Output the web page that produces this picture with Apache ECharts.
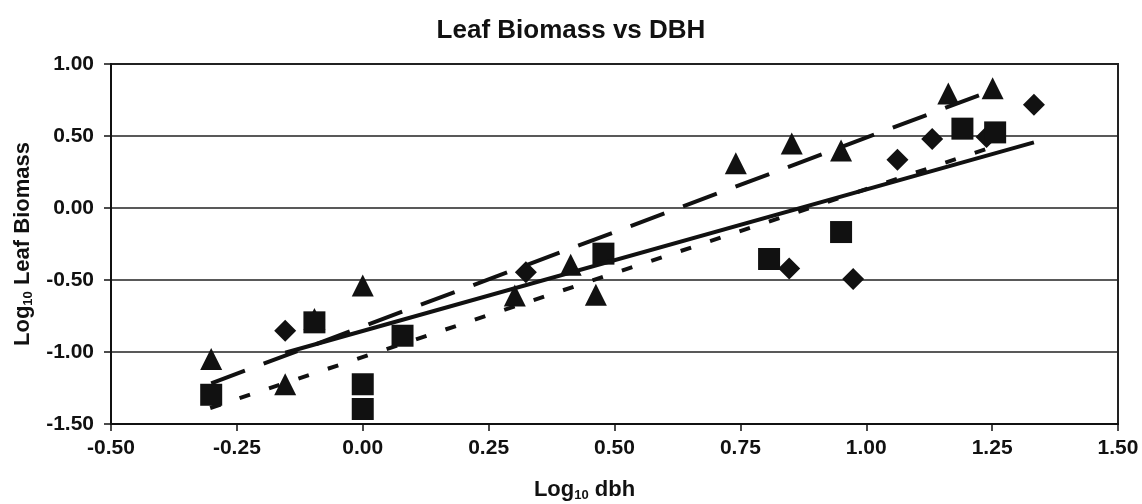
<!DOCTYPE html>
<html>
<head>
<meta charset="utf-8">
<title>Leaf Biomass vs DBH</title>
<script src="https://cdn.jsdelivr.net/npm/echarts@6/dist/echarts.min.js"></script>
<style>
  html,body{margin:0;padding:0;background:#fff;}
  #chart{width:1142px;height:504px;}
</style>
</head>
<body>
<div id="chart"></div>
<script>
// log10 dbh / log10 leaf biomass
const diamondPts = [
  [-0.154, -0.852], [0.324, -0.447], [0.847, -0.421], [0.974, -0.493],
  [1.062, 0.335], [1.131, 0.479], [1.239, 0.493], [1.333, 0.717]
]
const squarePts = [
  [-0.301, -1.297], [-0.096, -0.794], [0.000, -1.224], [0.000, -1.396],
  [0.079, -0.887], [0.478, -0.317], [0.807, -0.354], [0.950, -0.167],
  [1.191, 0.551], [1.256, 0.525]
]
const trianglePts = [
  [-0.301, -1.048], [-0.154, -1.224], [-0.096, -0.771], [0.000, -0.538],
  [0.302, -0.608], [0.413, -0.394], [0.463, -0.602], [0.741, 0.310],
  [0.852, 0.448], [0.950, 0.399], [1.163, 0.796], [1.251, 0.831]
]

// trend line end points
const diamondTrend = [[-0.154, -1.005], [1.333, 0.456]]
const squareTrend = [[-0.303, -1.389], [1.256, 0.430]]
const triangleTrend = [[-0.301, -1.218], [1.251, 0.818]]

const xTicks = { min: -0.5, max: 1.5, step: 0.25 }
const yTicks = { min: -1.5, max: 1.0, step: 0.5 }

const ink = '#111'
const font = 'Liberation Sans, Arial, sans-serif'

const chart = echarts.init(document.getElementById('chart'))

const nameRich = {
  a: { fontFamily: font, fontWeight: 'bold', fontSize: 22, color: ink },
  s: { fontFamily: font, fontWeight: 'bold', fontSize: 13, color: ink, padding: [12, 0, 0, 0] }
}

const scatter = (data, symbol, size) => ({
  type: 'scatter',
  data: data,
  symbol: symbol,
  symbolSize: size,
  itemStyle: { color: ink, opacity: 1 },
  z: 3
})

const trend = (data, dash) => ({
  type: 'line',
  data: data,
  showSymbol: false,
  symbol: 'none',
  lineStyle: { color: ink, width: 4, type: dash, cap: 'butt' },
  z: 4,
  silent: true
})

chart.setOption({
  animation: false,
  backgroundColor: '#fff',
  title: {
    text: 'Leaf Biomass vs DBH',
    left: 'center',
    top: 13,
    textStyle: { fontFamily: font, fontWeight: 'bold', fontSize: 26, color: ink }
  },
  grid: {
    left: 111, right: 24, top: 64, bottom: 80,
    containLabel: false,
    outerBoundsMode: 'none',
    show: true,
    borderColor: '#222',
    borderWidth: 2
  },
  xAxis: {
    type: 'value',
    min: xTicks.min, max: xTicks.max, interval: xTicks.step,
    name: '{a|Log}{s|10}{a| dbh}',
    nameLocation: 'middle',
    nameGap: 53,
    nameTextStyle: { rich: nameRich, padding: [0, 60, 0, 0] },
    axisLine: { show: true, onZero: false, lineStyle: { color: ink, width: 2 } },
    axisTick: { show: true, length: 7, lineStyle: { color: ink, width: 1.5 } },
    axisLabel: {
      margin: 14,
      fontFamily: font, fontWeight: 'bold', fontSize: 21, color: ink,
      formatter: v => v.toFixed(2)
    },
    splitLine: { show: false }
  },
  yAxis: {
    type: 'value',
    min: yTicks.min, max: yTicks.max, interval: yTicks.step,
    name: '{a|Log}{s|10}{a| Leaf Biomass}',
    nameLocation: 'middle',
    nameGap: 73,
    nameRotate: 90,
    nameTextStyle: { rich: nameRich, padding: [0, 0, 0, 0] },
    axisLine: { show: true, onZero: false, lineStyle: { color: ink, width: 2 } },
    axisTick: { show: true, length: 7, lineStyle: { color: ink, width: 1.5 } },
    axisLabel: {
      margin: 17,
      fontFamily: font, fontWeight: 'bold', fontSize: 21, color: ink,
      formatter: v => v.toFixed(2)
    },
    splitLine: { show: true, lineStyle: { color: '#222', width: 1.5 } }
  },
  series: [
    scatter(trianglePts, 'triangle', 22),
    scatter(diamondPts, 'diamond', 22),
    scatter(squarePts, 'rect', 22),
    trend(diamondTrend, 'solid'),
    trend(triangleTrend, [36, 20]),
    trend(squareTrend, [11, 20])
  ]
})

window.addEventListener('resize', () => {
  chart.resize()
})
</script>
</body>
</html>
